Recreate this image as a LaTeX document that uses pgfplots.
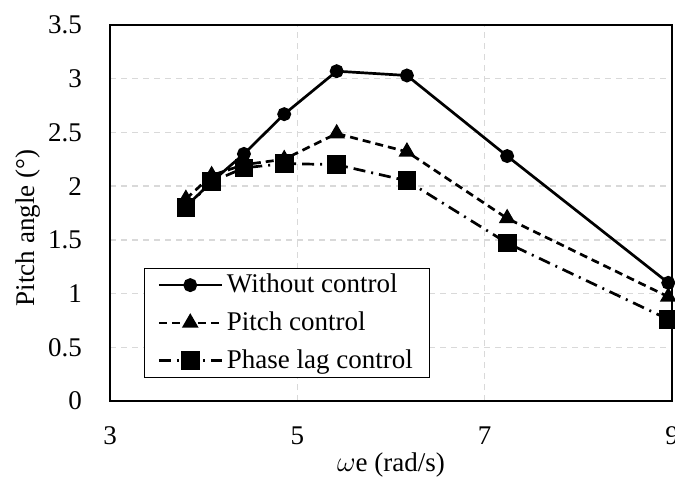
\documentclass[border=0pt]{standalone}
\usepackage{fontspec}
\setmainfont{Liberation Serif}
\usepackage{pgfplots}
\pgfplotsset{compat=1.18}
\definecolor{gridgray}{RGB}{217,217,217}
\begin{document}
\begin{tikzpicture}[font=\fontsize{13.5}{16}\selectfont]
\begin{axis}[
  name=ax,
  scale only axis,
  width=281pt, height=188pt,
  xmin=3, xmax=9, ymin=0, ymax=3.5,
  xtick={3,5,7,9}, ytick={0,0.5,...,3.5},
  yticklabels={0,0.5,1,1.5,2,2.5,3,3.5},
  /pgf/number format/assume math mode=true,
  major tick length=0pt,
  axis line style={black, line width=0.8pt},
  grid=major,
  major grid style={gridgray, line width=0.75pt, dash pattern=on 3pt off 2.5pt},
  xticklabel style={yshift=-9.5pt},
  yticklabel style={xshift=-10.5pt},
  xlabel={$\omega$e (rad/s)},
  ylabel={Pitch angle (\textdegree)},
  xlabel style={at={(axis description cs:0.5,0)}, anchor=center, yshift=-32pt},
  ylabel style={at={(axis description cs:-0.146,0.46)}, anchor=center},
  legend style={at={(axis description cs:0.0605,0.061)}, anchor=south west,
    draw=black, line width=0.6pt, font=\fontsize{13.5}{16}\selectfont,
    legend cell align=left, row sep=4pt, inner ysep=1pt, inner xsep=6.5pt},
  legend image code/.code={%
    \draw[mark repeat=2,mark phase=2,#1] plot coordinates {(0cm,0cm) (0.55cm,0cm) (1.1cm,0cm)};},
]
\addplot[black, line width=1.35pt, mark=*, mark size=2.8pt, mark options={solid}] coordinates {
  (3.81,1.81) (4.085,2.04) (4.43,2.30) (4.86,2.67) (5.42,3.07) (6.17,3.03) (7.24,2.28) (8.96,1.10)};
\addlegendentry{Without control}
\addplot[black, line width=1.35pt, dash pattern=on 4pt off 2.5pt, mark=triangle*, mark size=3.5pt, mark options={solid}] coordinates {
  (3.81,1.88) (4.085,2.10) (4.43,2.20) (4.86,2.25) (5.42,2.49) (6.17,2.32) (7.24,1.70) (8.96,0.97)};
\addlegendentry{Pitch control}
\addplot[black, line width=1.35pt, dash pattern=on 6pt off 3pt on 1pt off 3pt, mark=square*, mark size=4pt, mark options={solid}] coordinates {
  (3.81,1.80) (4.085,2.04) (4.43,2.17) (4.86,2.21) (5.42,2.20) (6.17,2.05) (7.24,1.47) (8.96,0.76)};
\addlegendentry{Phase lag control}
\end{axis}
\pgfresetboundingbox
\useasboundingbox ([xshift=-55pt,yshift=-45pt]ax.south west) rectangle ([xshift=1.5pt,yshift=12.5pt]ax.north east);
\end{tikzpicture}
\end{document}
